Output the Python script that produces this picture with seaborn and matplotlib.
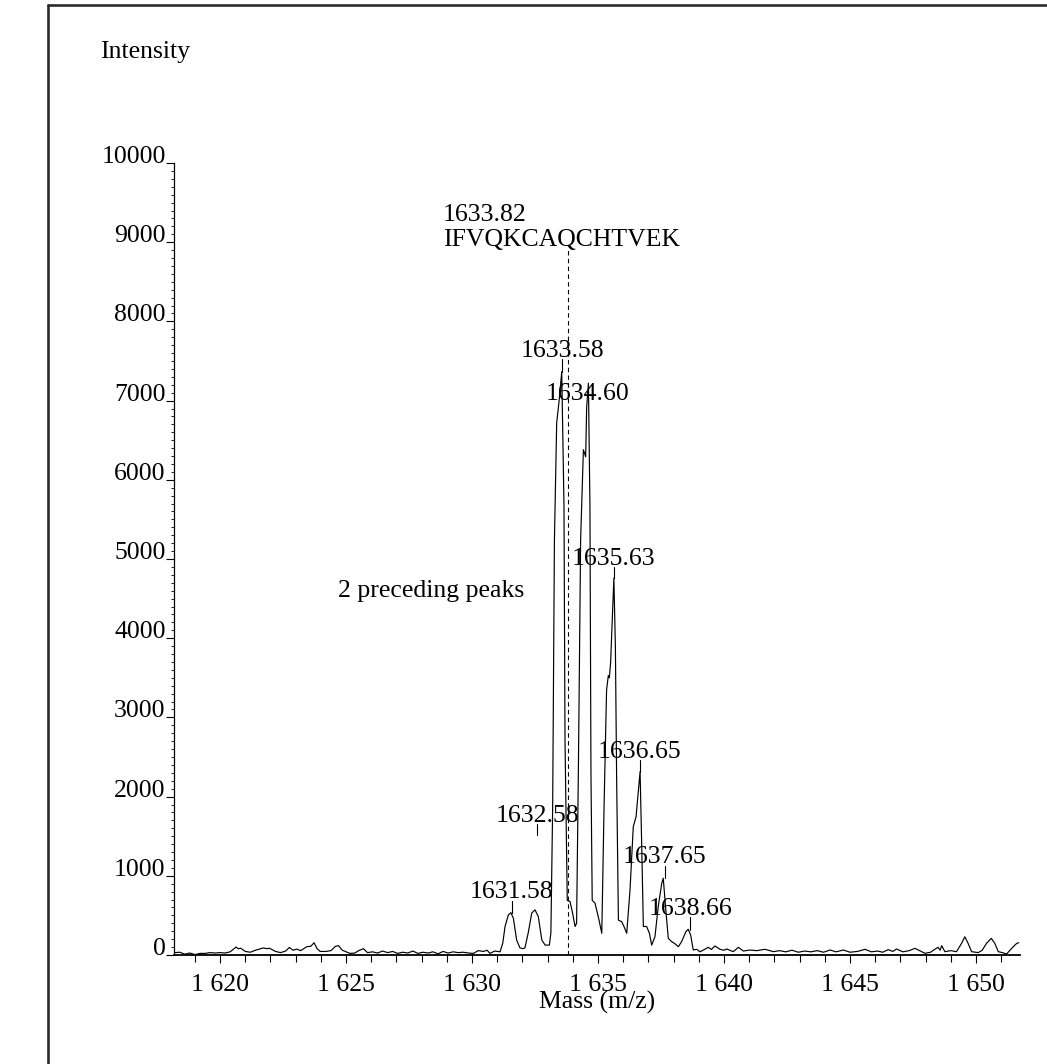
import matplotlib
matplotlib.use("Agg")
import matplotlib.pyplot as plt
from matplotlib.lines import Line2D
from matplotlib.ticker import FixedLocator, FuncFormatter, MultipleLocator
import seaborn as sns
import pandas as pd

# ---------------- data ----------------
baseline_left_mz = [1618.2, 1618.4, 1618.6, 1618.8, 1619.0, 1619.2, 1619.4, 1619.6, 1619.8, 1620.0,
                    1620.2, 1620.4, 1620.63, 1620.72, 1620.82, 1621.0, 1621.2, 1621.4, 1621.72, 1621.85,
                    1621.96, 1622.2, 1622.4, 1622.6, 1622.75, 1622.9, 1623.04, 1623.2, 1623.44, 1623.6,
                    1623.73, 1623.85, 1623.97, 1624.2, 1624.4, 1624.58, 1624.70, 1624.85, 1625.0, 1625.16,
                    1625.35, 1625.5, 1625.69, 1625.85, 1626.05, 1626.25, 1626.45, 1626.65, 1626.85, 1627.05,
                    1627.25, 1627.45, 1627.65, 1627.85, 1628.05, 1628.25, 1628.45, 1628.65, 1628.85, 1629.05,
                    1629.25, 1629.45, 1629.65, 1629.85, 1630.05, 1630.25, 1630.45, 1630.6, 1630.71, 1630.9]
baseline_left_int = [30, 35, 10, 25, 5, 20, 20, 30, 25, 30,
                     25, 40, 100, 80, 85, 45, 35, 60, 90, 80,
                     85, 45, 30, 50, 95, 60, 75, 55, 105, 110,
                     155, 80, 45, 45, 55, 110, 118, 60, 40, 20,
                     25, 55, 80, 30, 40, 25, 50, 30, 45, 20,
                     35, 25, 50, 20, 35, 25, 40, 15, 45, 25,
                     40, 30, 35, 25, 20, 55, 45, 60, 20, 50]

cluster_mz = [1631.11, 1631.22, 1631.31, 1631.44, 1631.54, 1631.64, 1631.77, 1631.90, 1632.02, 1632.10,
              1632.23, 1632.37, 1632.50, 1632.63, 1632.77, 1632.90, 1633.07, 1633.13, 1633.20, 1633.27,
              1633.36, 1633.46, 1633.56, 1633.65, 1633.69, 1633.78, 1633.89, 1633.99, 1634.09, 1634.15,
              1634.22, 1634.31, 1634.42, 1634.51, 1634.55, 1634.62, 1634.68, 1634.72, 1634.77, 1634.88,
              1635.01, 1635.15, 1635.24, 1635.34, 1635.41, 1635.45, 1635.50, 1635.63, 1635.69, 1635.74,
              1635.81, 1635.94, 1636.03, 1636.14, 1636.27, 1636.40, 1636.51, 1636.67, 1636.73, 1636.80,
              1636.93, 1637.04, 1637.13, 1637.26, 1637.39, 1637.53, 1637.59, 1637.68, 1637.79, 1637.92,
              1638.06, 1638.19, 1638.32, 1638.49, 1638.58, 1638.68, 1638.78, 1638.92]
cluster_int = [40, 150, 360, 505, 535, 465, 190, 90, 80, 90,
               280, 530, 570, 485, 190, 125, 125, 280, 1870, 5240,
               6720, 7010, 7365, 5660, 2715, 690, 675, 530, 360, 400,
               2300, 5240, 6380, 6290, 6920, 7220, 5660, 2300, 690, 655,
               485, 275, 1870, 3345, 3530, 3500, 3690, 4760, 3890, 2210,
               440, 420, 360, 275, 820, 1620, 1745, 2315, 1450, 360,
               360, 275, 125, 230, 610, 905, 970, 610, 210, 170,
               140, 105, 170, 295, 325, 250, 63, 72]

baseline_right_mz = [1639.05, 1639.18, 1639.38, 1639.5, 1639.64, 1639.84, 1640.0, 1640.11, 1640.37, 1640.57,
                     1640.77, 1641.03, 1641.30, 1641.63, 1641.96, 1642.2, 1642.45, 1642.7, 1642.95, 1643.2,
                     1643.45, 1643.7, 1643.95, 1644.21, 1644.45, 1644.74, 1645.0, 1645.3, 1645.6, 1645.85,
                     1646.1, 1646.3, 1646.52, 1646.7, 1646.85, 1647.1, 1647.35, 1647.58, 1647.8, 1647.98,
                     1648.2, 1648.37, 1648.5, 1648.58, 1648.64, 1648.77, 1649.0, 1649.23, 1649.43, 1649.56,
                     1649.69, 1649.83, 1650.09, 1650.25, 1650.42, 1650.61, 1650.75, 1650.89, 1651.05, 1651.22,
                     1651.42, 1651.62, 1651.7]
baseline_right_int = [40, 63, 97, 70, 114, 72, 60, 76, 42, 97,
                      50, 63, 55, 72, 42, 55, 40, 60, 35, 50,
                      40, 55, 35, 63, 40, 63, 35, 45, 72, 40,
                      50, 35, 68, 45, 76, 40, 55, 84, 50, 21,
                      35, 72, 97, 60, 118, 42, 55, 42, 147, 230,
                      147, 42, 30, 60, 147, 210, 147, 42, 30, 13,
                      84, 147, 155]

# peak annotations
peak_labels = ["1631.58", "1632.58", "1633.58", "1634.60", "1635.63", "1636.65", "1637.65", "1638.66"]
peak_label_mz = [1631.58, 1632.58, 1633.58, 1634.60, 1635.63, 1636.65, 1637.65, 1638.66]
peak_label_int = [720, 1679, 7551, 7008, 4924, 2487, 1162, 505]
peak_tick_lo = [530, 1515, 7361, None, 4760, 2311, 972, 316]
peak_tick_hi = [682, 1654, 7525, None, 4899, 2462, 1124, 480]

theo_mz = 1633.82
theo_top = 8927
theo_label = "1633.82"
theo_seq = "IFVQKCAQCHTVEK"

x_major = [1620, 1625, 1630, 1635, 1640, 1645, 1650]
y_major = [0, 1000, 2000, 3000, 4000, 5000, 6000, 7000, 8000, 9000, 10000]

# ---------------- figure ----------------
sns.set_style("white")
plt.rcParams['font.family'] = ['Liberation Serif', 'DejaVu Serif']
plt.rcParams['text.color'] = 'black'
plt.rcParams['axes.labelcolor'] = 'black'
plt.rcParams['xtick.color'] = 'black'
plt.rcParams['ytick.color'] = 'black'
FS = 18.5

W, H = 1047, 1064
fig = plt.figure(figsize=(W / 100, H / 100), dpi=100)
ax = fig.add_axes([174 / W, 1 - 955 / H, (1020 - 174) / W, (955 - 163) / H])

df = pd.DataFrame({
    "mz": baseline_left_mz + cluster_mz + baseline_right_mz,
    "intensity": baseline_left_int + cluster_int + baseline_right_int,
})
sns.lineplot(data=df, x="mz", y="intensity", ax=ax, color="black", lw=0.85,
             estimator=None, sort=False)

ax.set_xlim(1618.17, 1651.75)
ax.set_ylim(0, 10000)

# dashed theoretical line
ax.plot([theo_mz, theo_mz], [0, theo_top], color="black", lw=0.8, ls=(0, (4, 3)))
ax.text(1628.85, 9268, theo_label, fontsize=FS, ha="left", va="baseline", color="black")
ax.text(1628.85, 8952, theo_seq, fontsize=FS, ha="left", va="baseline", color="black")

# peak labels
for lab, mz, yi, lo, hi in zip(peak_labels, peak_label_mz, peak_label_int, peak_tick_lo, peak_tick_hi):
    ax.text(mz, yi, lab, fontsize=FS, ha="center", va="baseline", color="black")
    if lo is not None:
        ax.plot([mz, mz], [lo, hi], color="black", lw=0.8)

ax.text(1624.68, 4520, "2 preceding peaks", fontsize=FS, ha="left", va="baseline", color="black")

# axes styling
for s in ["top", "right"]:
    ax.spines[s].set_visible(False)
ax.spines["left"].set_linewidth(0.9)
ax.spines["bottom"].set_linewidth(1.3)
ax.spines["left"].set_color("black")
ax.spines["bottom"].set_color("black")

ax.xaxis.set_major_locator(FixedLocator(x_major))
ax.xaxis.set_minor_locator(MultipleLocator(1))
ax.xaxis.set_major_formatter(FuncFormatter(lambda v, p: f"{int(round(v)):,}".replace(",", " ")))
ax.yaxis.set_major_locator(FixedLocator(y_major))
ax.yaxis.set_minor_locator(MultipleLocator(100))
ax.yaxis.set_major_formatter(FuncFormatter(lambda v, p: f"{int(round(v))}"))

ax.tick_params(axis="x", which="major", direction="out", length=6, width=0.8,
               labelsize=FS, pad=8, bottom=True, colors="black")
ax.tick_params(axis="x", which="minor", direction="out", length=5, width=0.8, bottom=True)
ax.tick_params(axis="y", which="major", direction="out", length=6, width=0.8,
               labelsize=FS, pad=0, left=True, colors="black")
ax.tick_params(axis="y", which="minor", direction="out", length=2, width=0.6, left=True)
for t in ax.get_yticklabels():
    t.set_verticalalignment("baseline")

ax.set_xlabel("Mass (m/z)", fontsize=FS, labelpad=-4, color="black")
ax.set_ylabel("")
ax.grid(False)

fig.text(100 / W, 1 - 58 / H, "Intensity", fontsize=FS, ha="left", va="baseline", color="black")

# outer frame (cut off at right/bottom)
fig.add_artist(Line2D([48 / W, 48 / W], [1 - 5 / H, 0], transform=fig.transFigure,
                      color="#2a2a2a", lw=1.9))
fig.add_artist(Line2D([48 / W, 1], [1 - 5 / H, 1 - 5 / H], transform=fig.transFigure,
                      color="#2a2a2a", lw=1.9))

fig.savefig("out.png", dpi=100, facecolor="white")
